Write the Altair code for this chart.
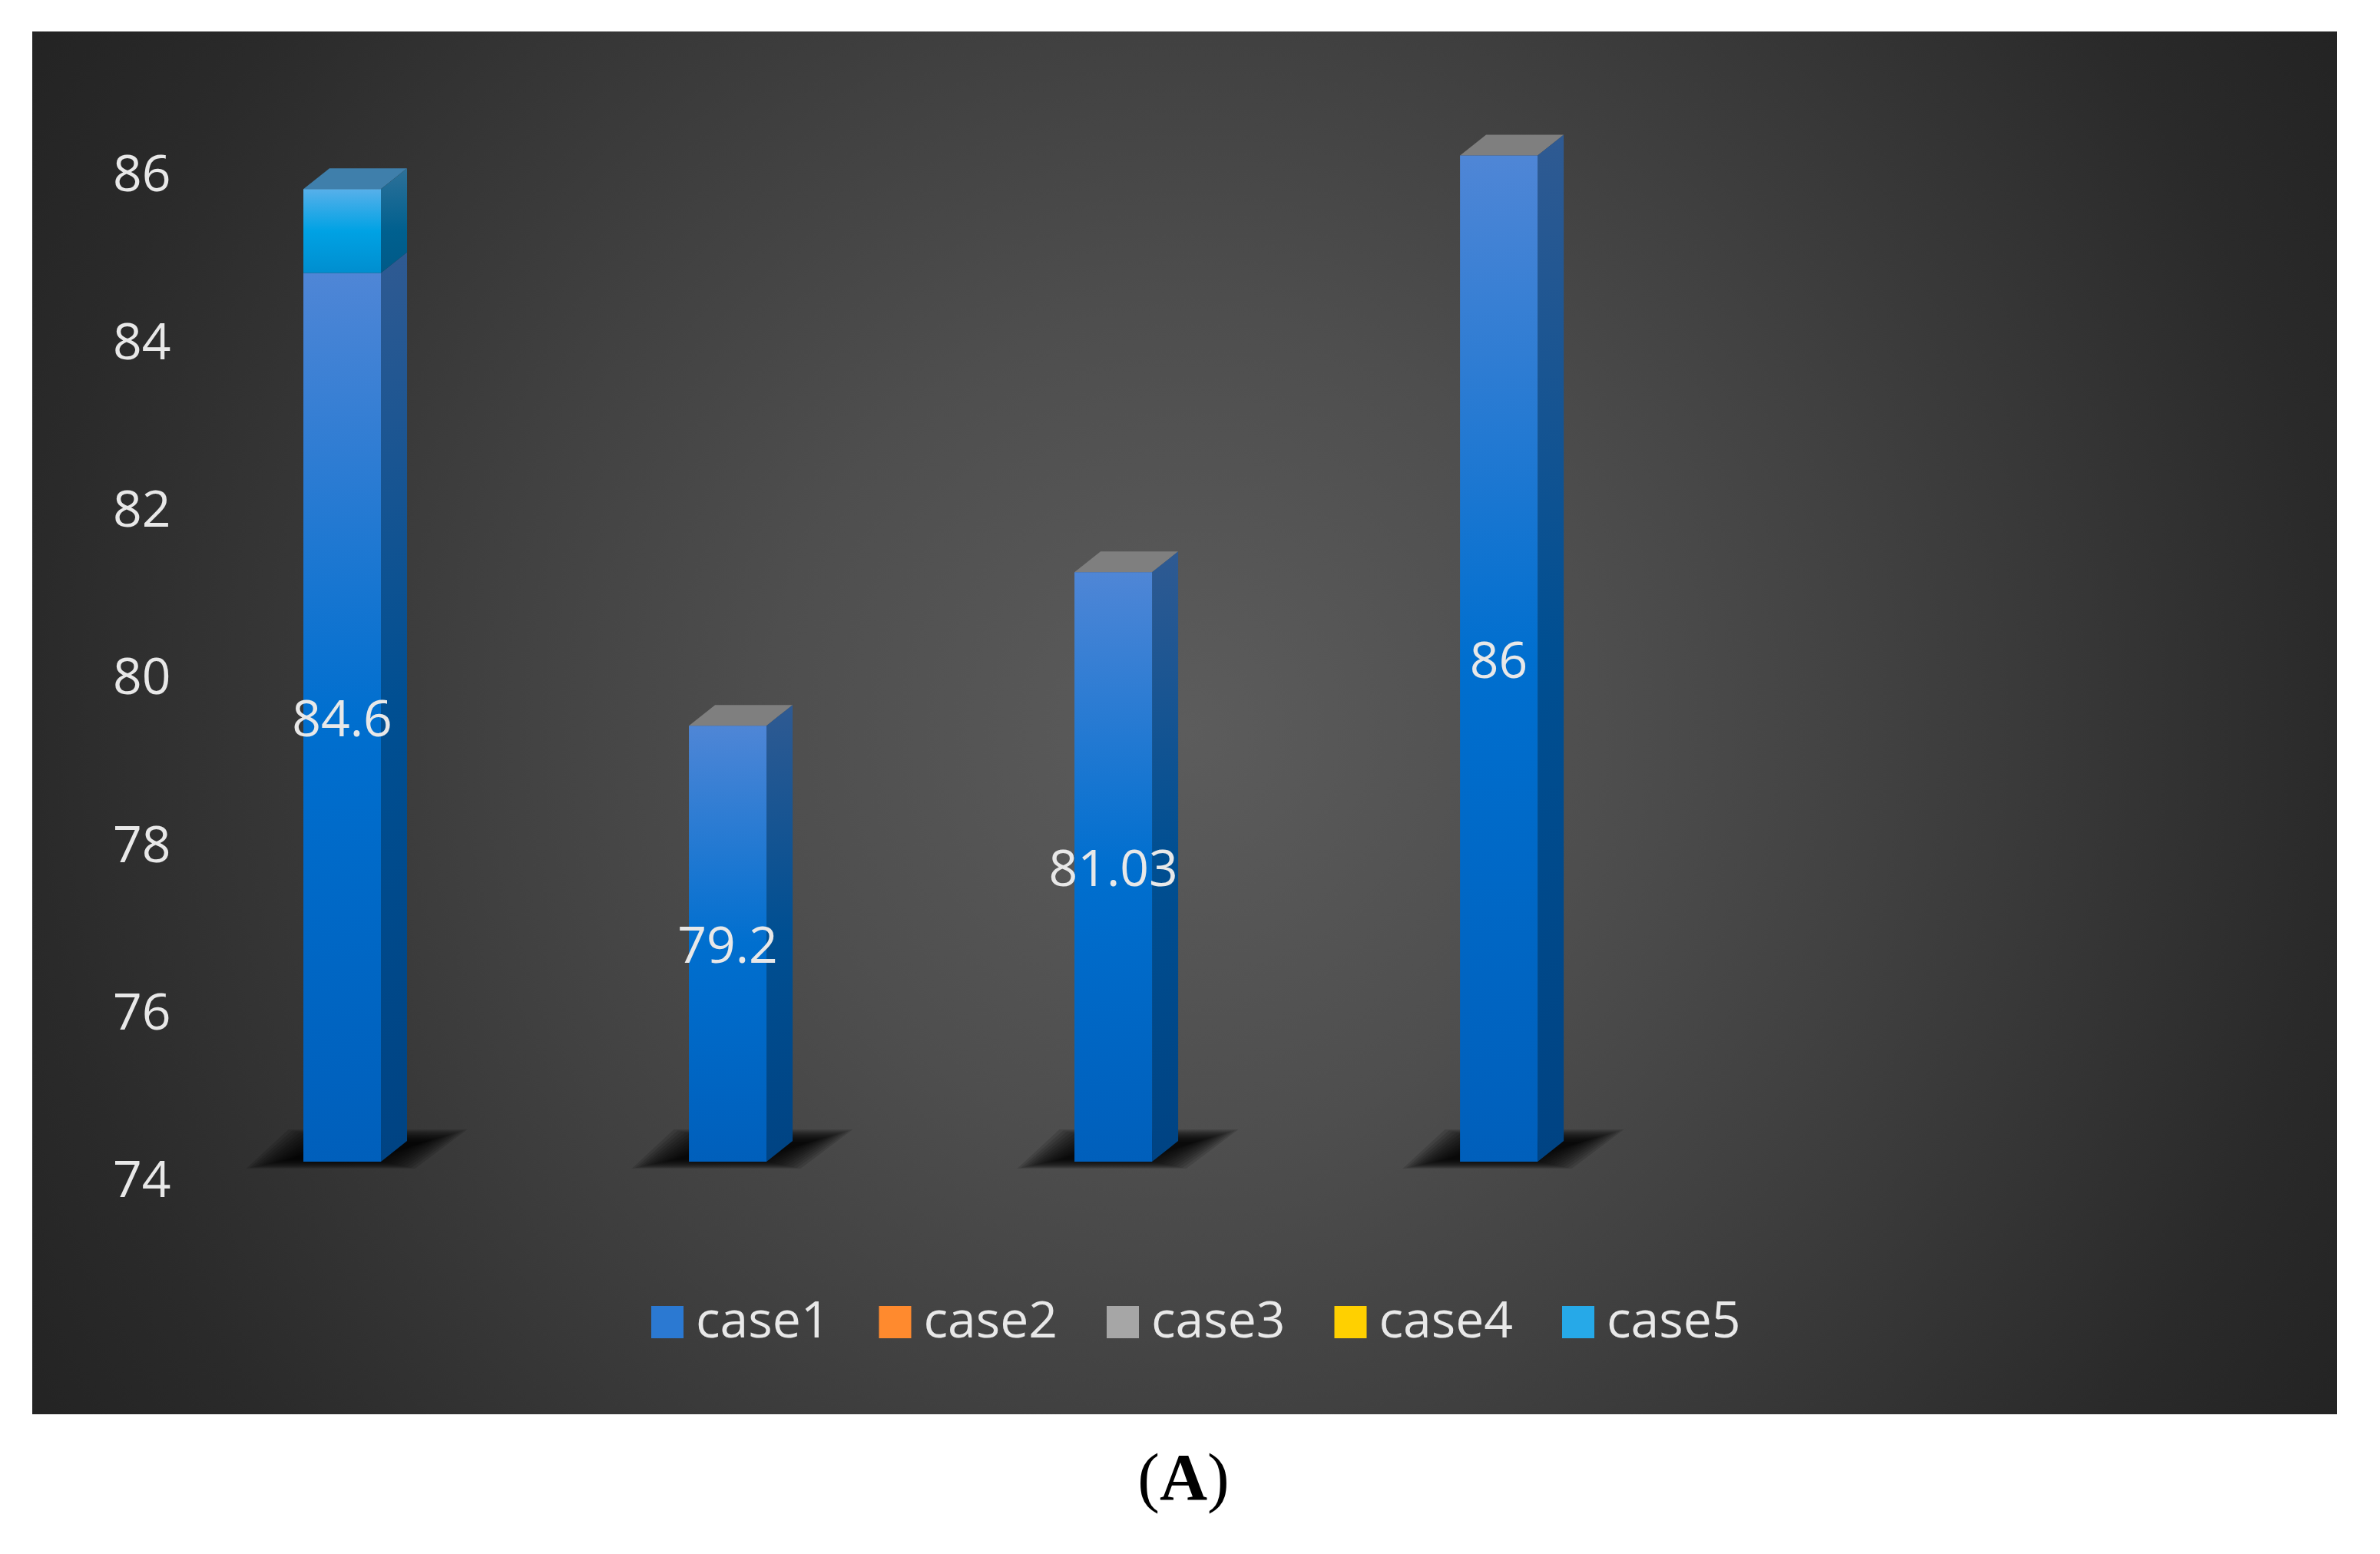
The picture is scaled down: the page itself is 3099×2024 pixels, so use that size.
import altair as alt
import pandas as pd

# ---- values
slots = [0, 1, 2, 3]
case1 = [84.6, 79.2, 81.03, 86.0]
case2 = [0, 0, 0, 0]
case3 = [0, 0, 0, 0]
case4 = [0, 0, 0, 0]
case5 = [1.0, 0, 0, 0]
series = ["case1", "case2", "case3", "case4", "case5"]
series_colors = ["#2b79d2", "#ff8a2e", "#a6a6a6", "#ffd000", "#26a9e8"]
y_ticks = [74, 76, 78, 80, 82, 84, 86]
value_labels = ["84.6", "79.2", "81.03", "86"]

# ---- style / geometry
W, H = 3001, 1801
BASE = 74
Y_DOMAIN = [70.987, 87.48]
X_DOMAIN = [-0.8038, 5.174]
PX_X = W / (X_DOMAIN[1] - X_DOMAIN[0])
PX_Y = H / (Y_DOMAIN[1] - Y_DOMAIN[0])
HALF = 50.5 / PX_X
DX = 34 / PX_X
DY = 27 / PX_Y
TEXT = "#e8e8e8"
FONT = "Open Sans"
FS = 66


def vgrad(stops):
    return alt.LinearGradient(
        gradient="linear", x1=0, y1=0, x2=0, y2=1,
        stops=[alt.GradientStop(offset=o, color=c) for o, c in stops],
    )


FRONT1 = vgrad([(0, "#4f86d6"), (0.5, "#006fcf"), (1, "#005fbb")])
SIDE1 = vgrad([(0, "#2f5a92"), (0.5, "#004f92"), (1, "#004383")])
FRONT5 = vgrad([(0, "#57b0ea"), (0.5, "#00a2e4"), (1, "#008ecf")])
SIDE5 = vgrad([(0, "#2e7199"), (0.6, "#00608f"), (1, "#005a88")])
BG = alt.RadialGradient(
    gradient="radial", x1=0.5, y1=0.5, r1=0, x2=0.5, y2=0.5, r2=0.6,
    stops=[
        alt.GradientStop(offset=0, color="#5c5c5c"),
        alt.GradientStop(offset=0.3, color="#4e4e4e"),
        alt.GradientStop(offset=0.5, color="#414141"),
        alt.GradientStop(offset=0.833, color="#2a2a2a"),
        alt.GradientStop(offset=1, color="#222222"),
    ],
)

xs = alt.Scale(domain=X_DOMAIN, nice=False, zero=False)
ys = alt.Scale(domain=Y_DOMAIN, nice=False, zero=False)
X = alt.X("x:Q", scale=xs, axis=None)
Y = alt.Y(
    "y:Q", scale=ys, title=None,
    axis=alt.Axis(
        values=y_ticks, orient="left", offset=-180, domain=False, ticks=False,
        grid=False, labelPadding=0, labelOffset=26, labelFont=FONT,
        labelFontSize=FS, labelColor=TEXT, labelAlign="right",
        labelBaseline="middle", zindex=1, format="d", title=None,
    ),
)


def seg_rows(i, lo, hi):
    return dict(id=f"{i}-{lo}", x=i - HALF, x2=i + HALF, y=hi, y2=lo)


def side_rows(i, lo, hi):
    k = f"{i}-{lo}"
    xr = i + HALF
    return [
        dict(id=k, x=xr, y=hi, y2=lo),
        dict(id=k, x=xr + DX, y=hi + DY, y2=lo + DY),
    ]


def top_rows(i, top):
    xl, xr = i - HALF, i + HALF
    return [
        dict(id=i, x=xl, y=top, y2=top),
        dict(id=i, x=xl + DX, y=top + DY, y2=top),
        dict(id=i, x=xr, y=top + DY, y2=top),
        dict(id=i, x=xr + DX, y=top + DY, y2=top + DY),
    ]


def shadow_rows(i, inset):
    lo = BASE + (-9 + inset * 0.5) / PX_Y
    hi = BASE + (42 - inset * 0.7) / PX_Y
    bl, br = i + (-125 + inset * 2.4) / PX_X, i + (95 - inset * 2.4) / PX_X
    tl, tr = i + (-70 + inset * 2.4) / PX_X, i + (163 - inset * 2.4) / PX_X
    k = f"{i}-{inset}"
    return [
        dict(id=k, x=bl, y=lo, y2=lo),
        dict(id=k, x=tl, y=hi, y2=lo),
        dict(id=k, x=br, y=hi, y2=lo),
        dict(id=k, x=tr, y=hi, y2=hi),
    ]


def face(rows, fill):
    return (
        alt.Chart(pd.DataFrame(rows))
        .mark_area(orient="vertical", fill=fill, interpolate="linear")
        .encode(x=X, y=Y, y2="y2:Q", detail="id:N")
    )


def front(rows, fill):
    return (
        alt.Chart(pd.DataFrame(rows))
        .mark_rect(fill=fill)
        .encode(x=X, x2="x2:Q", y=Y, y2="y2:Q")
    )


# background: a square rect, clipped, keeps the glow circular
bg = (
    alt.Chart(pd.DataFrame({"a": [0]}))
    .mark_rect(fill=BG, clip=True)
    .encode(
        x=alt.value(0), x2=alt.value(W),
        y=alt.value(H / 2 + 7 - W / 2), y2=alt.value(H / 2 + 7 + W / 2),
    )
)

# shadows: stacked translucent shapes stand in for the blur
shadow_layers = [
    alt.Chart(pd.DataFrame([r for i in slots for r in shadow_rows(i, inset)]))
    .mark_area(orient="vertical", fill="#000000", opacity=0.13)
    .encode(x=X, y=Y, y2="y2:Q", detail="id:N")
    for inset in [0, 2, 4, 6, 8, 10, 12, 14, 16, 18, 20, 22, 24]
]

tops = [v + s for v, s in zip(case1, case5)]
grey_top = [r for i in slots if case5[i] == 0 for r in top_rows(i, tops[i])]
blue_top = [r for i in slots if case5[i] > 0 for r in top_rows(i, tops[i])]

layers = [bg] + shadow_layers + [
    face(grey_top, "#7f7f7f"),
    face(blue_top, "#3f7fab"),
    face([r for i in slots for r in side_rows(i, BASE, case1[i])], SIDE1),
    face([r for i in slots if case5[i] > 0 for r in side_rows(i, case1[i], tops[i])], SIDE5),
    front([seg_rows(i, BASE, case1[i]) for i in slots], FRONT1),
    front([seg_rows(i, case1[i], tops[i]) for i in slots if case5[i] > 0], FRONT5),
]

# value labels
labels_df = pd.DataFrame({
    "x": slots,
    "y": [(BASE + v) / 2 for v in case1],
    "t": value_labels,
})
layers.append(
    alt.Chart(labels_df)
    .mark_text(font=FONT, fontSize=FS, color=TEXT, align="center", baseline="middle", dy=5)
    .encode(x=X, y=Y, text="t:N")
)

# legend
legend_df = pd.DataFrame({"s": series, "x": [0] * 5})
layers.append(
    alt.Chart(legend_df)
    .mark_point(size=0, filled=True, opacity=1)
    .encode(
        x=X,
        color=alt.Color(
            "s:N",
            scale=alt.Scale(domain=series, range=series_colors),
            legend=alt.Legend(
                title=None, orient="none", legendX=794, legendY=1648, direction="horizontal",
                columns=5, columnPadding=51.5, symbolType="square", symbolSize=1764,
                symbolStrokeWidth=0, symbolOpacity=1, labelFont=FONT, labelFontSize=FS,
                labelColor=TEXT, labelOffset=4, padding=0, zindex=1, labelLimit=400,
            ),
        ),
    )
)

# caption (A)
caption = [("(", "right", "normal", 1468), ("A", "center", "bold", 1499), (")", "left", "normal", 1530)]
for t, al, wt, px in caption:
    layers.append(
        alt.Chart(pd.DataFrame({"t": [t]}))
        .mark_text(font="Liberation Serif", fontSize=86, fontWeight=wt, color="#000000",
                   align=al, baseline="alphabetic")
        .encode(x=alt.value(px), y=alt.value(1912), text="t:N")
    )

chart = (
    alt.layer(*layers)
    .properties(
        width=W, height=H,
        autosize=alt.AutoSizeParams(type="none"),
        padding={"left": 34, "top": 33, "right": 40, "bottom": 160},
        background="#ffffff",
    )
    .configure_view(stroke=None)
)
chart.save("out.html", embed_options={"renderer": "svg", "actions": False})
